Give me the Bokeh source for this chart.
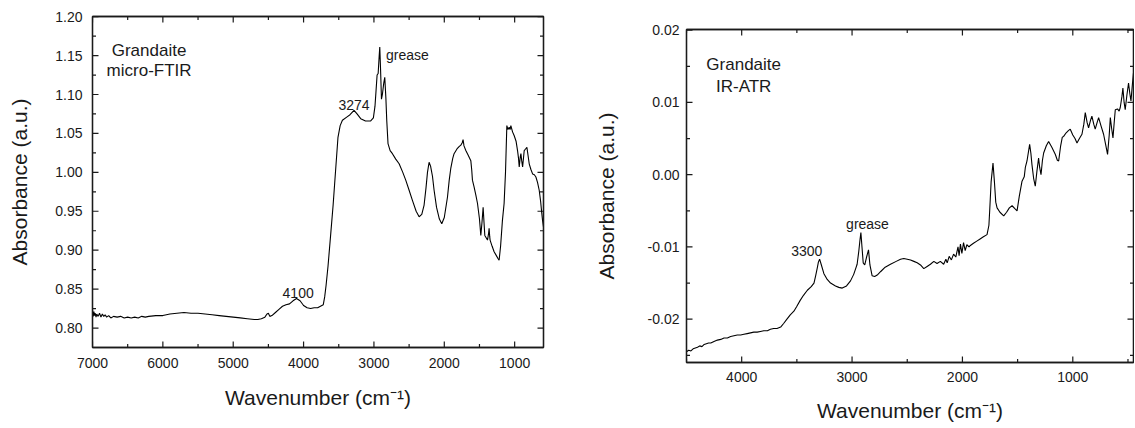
import math
from bokeh.plotting import figure
from bokeh.layouts import row
from bokeh.models import (Range1d, LinearAxis, SingleIntervalTicker, NumeralTickFormatter,
                          CustomJSTickFormatter, Label)
from bokeh.embed import file_html
from bokeh.resources import INLINE

# ---------------- data ----------------
# Left panel: micro-FTIR (wavenumber cm-1, absorbance)
ftir_wn = [7000, 6990, 6980, 6970, 6960, 6950, 6940, 6920, 6900, 6880, 6860, 6840, 6820, 6800,
           6770, 6740, 6700, 6650, 6600, 6550, 6500, 6450, 6400, 6350, 6300, 6250, 6200, 6100,
           6000, 5900, 5800, 5700, 5600, 5500, 5400, 5300, 5200, 5100, 5000, 4900, 4800, 4700,
           4650, 4600, 4550, 4520, 4500, 4480, 4450, 4400, 4350, 4300, 4250, 4200, 4150, 4100,
           4050, 4000, 3950, 3900, 3850, 3800, 3760, 3720, 3700, 3680, 3653, 3614, 3580, 3543,
           3511, 3480, 3448, 3387, 3340, 3283, 3240, 3188, 3120, 3046, 3008, 2985, 2970, 2955,
           2940, 2925, 2917, 2905, 2893, 2880, 2860, 2846, 2830, 2818, 2800, 2770, 2737, 2690,
           2642, 2590, 2548, 2500, 2453, 2400, 2358, 2320, 2287, 2260, 2239, 2216, 2195, 2168,
           2145, 2110, 2070, 2036, 2000, 1955, 1930, 1908, 1880, 1861, 1820, 1790, 1765, 1745,
           1733, 1720, 1694, 1660, 1623, 1610, 1600, 1576, 1550, 1528, 1500, 1481, 1465, 1448,
           1435, 1424, 1405, 1386, 1370, 1363, 1355, 1349, 1320, 1292, 1260, 1235, 1221, 1200,
           1174, 1150, 1130, 1111, 1095, 1078, 1065, 1054, 1030, 1006, 980, 959, 945, 935, 920,
           911, 900, 887, 875, 864, 845, 826, 810, 793, 770, 745, 720, 698, 675, 651, 630, 615,
           603, 590]
ftir_abs = [0.823, 0.815, 0.821, 0.816, 0.819, 0.814, 0.818, 0.815, 0.819, 0.814, 0.818, 0.815,
            0.817, 0.814, 0.816, 0.813, 0.815, 0.814, 0.815, 0.813, 0.814, 0.813, 0.814, 0.813,
            0.815, 0.814, 0.815, 0.816, 0.816, 0.818, 0.819, 0.820, 0.819, 0.819, 0.818, 0.817,
            0.816, 0.815, 0.814, 0.813, 0.812, 0.811, 0.811, 0.812, 0.814, 0.818, 0.819, 0.815,
            0.816, 0.820, 0.824, 0.828, 0.830, 0.831, 0.835, 0.838, 0.835, 0.829, 0.826, 0.825,
            0.826, 0.826, 0.828, 0.830, 0.840, 0.855, 0.879, 0.921, 0.958, 1.005, 1.045, 1.060,
            1.067, 1.071, 1.074, 1.0795, 1.075, 1.069, 1.066, 1.066, 1.070, 1.085, 1.105, 1.125,
            1.127, 1.150, 1.161, 1.130, 1.094, 1.100, 1.115, 1.122, 1.095, 1.067, 1.037, 1.028,
            1.024, 1.017, 1.011, 1.000, 0.990, 0.977, 0.964, 0.950, 0.943, 0.946, 0.958, 0.980,
            1.000, 1.013, 1.008, 0.995, 0.977, 0.955, 0.940, 0.934, 0.942, 0.968, 0.990, 1.005,
            1.018, 1.024, 1.030, 1.033, 1.035, 1.038, 1.042, 1.034, 1.028, 1.022, 1.015, 1.003,
            0.990, 0.981, 0.970, 0.960, 0.940, 0.919, 0.935, 0.955, 0.935, 0.919, 0.916, 0.913,
            0.922, 0.928, 0.918, 0.913, 0.905, 0.898, 0.893, 0.889, 0.887, 0.905, 0.938, 0.960,
            1.000, 1.060, 1.055, 1.058, 1.055, 1.060, 1.052, 1.047, 1.040, 1.028, 1.018, 1.007,
            1.020, 1.024, 1.015, 1.007, 1.018, 1.028, 1.030, 1.032, 1.022, 1.011, 1.004, 0.998,
            0.997, 0.994, 0.987, 0.977, 0.962, 0.948, 0.938, 0.930]

# Right panel: IR-ATR
atr_wn = [4500, 4480, 4460, 4440, 4420, 4400, 4380, 4360, 4340, 4320, 4300, 4280, 4251, 4220,
          4190, 4160, 4130, 4100, 4070, 4040, 4009, 3980, 3950, 3920, 3890, 3860, 3830, 3800,
          3767, 3740, 3710, 3680, 3647, 3620, 3590, 3560, 3527, 3500, 3470, 3440, 3405, 3370,
          3345, 3330, 3315, 3305, 3294, 3280, 3255, 3225, 3195, 3150, 3120, 3089, 3050, 3014,
          2985, 2965, 2954, 2939, 2928, 2920, 2910, 2899, 2885, 2870, 2851, 2838, 2818, 2795,
          2772, 2740, 2700, 2652, 2600, 2561, 2531, 2500, 2470, 2440, 2410, 2380, 2350, 2320,
          2290, 2259, 2230, 2200, 2170, 2150, 2138, 2120, 2100, 2080, 2060, 2040, 2030, 2018,
          2005, 1990, 1975, 1960, 1940, 1928, 1900, 1870, 1840, 1810, 1777, 1760, 1753, 1740,
          1723, 1710, 1698, 1686, 1660, 1626, 1600, 1575, 1550, 1525, 1505, 1485, 1460, 1440,
          1430, 1415, 1391, 1380, 1370, 1355, 1340, 1325, 1310, 1300, 1288, 1275, 1264, 1240,
          1219, 1190, 1158, 1140, 1128, 1110, 1095, 1083, 1060, 1040, 1023, 1000, 980, 962,
          940, 917, 900, 887, 870, 857, 840, 827, 810, 797, 780, 766, 745, 721, 700, 685,
          670, 660, 648, 636, 625, 615, 595, 580, 570, 555, 546, 535, 525, 510, 495, 483,
          473, 460, 450]
atr_abs = [-0.0245, -0.0243, -0.0244, -0.0241, -0.0240, -0.0239, -0.0237, -0.0238, -0.0235,
           -0.0234, -0.0233, -0.0233, -0.0231, -0.0229, -0.0228, -0.0226, -0.0226, -0.0224,
           -0.0223, -0.0222, -0.0222, -0.0221, -0.0220, -0.0219, -0.0218, -0.0218, -0.0217,
           -0.0216, -0.0216, -0.0214, -0.0213, -0.0213, -0.0211, -0.0206, -0.0200, -0.0194,
           -0.0189, -0.0182, -0.0174, -0.0167, -0.0160, -0.0155, -0.0150, -0.0140, -0.0129,
           -0.0121, -0.0117, -0.0124, -0.0137, -0.0145, -0.0150, -0.0154, -0.0156, -0.0157,
           -0.0154, -0.0147, -0.0138, -0.0129, -0.0124, -0.0106, -0.0090, -0.0080, -0.0100,
           -0.0122, -0.0125, -0.0115, -0.0104, -0.0125, -0.0140, -0.0141, -0.0139, -0.0134,
           -0.0128, -0.0124, -0.0120, -0.0117, -0.0116, -0.0117, -0.0118, -0.0120, -0.0122,
           -0.0125, -0.0130, -0.0127, -0.0124, -0.0120, -0.0123, -0.0120, -0.0124, -0.0117,
           -0.0122, -0.0113, -0.0118, -0.0110, -0.0114, -0.0100, -0.0112, -0.0096, -0.0109,
           -0.0094, -0.0105, -0.0097, -0.0100, -0.0098, -0.0095, -0.0092, -0.0089, -0.0086,
           -0.0083, -0.0070, -0.0050, -0.0010, 0.0016, -0.0010, -0.0038, -0.0046, -0.0052,
           -0.0057, -0.0052, -0.0046, -0.0043, -0.0047, -0.0050, -0.0030, -0.0009, -0.0003,
           0.0010, 0.0019, 0.0042, 0.0030, 0.0014, -0.0005, -0.0016, 0.0005, 0.0023, 0.0010,
           0.0000, 0.0020, 0.0030, 0.0040, 0.0046, 0.0038, 0.0028, 0.0020, 0.0019, 0.0040,
           0.0052, 0.0053, 0.0058, 0.0061, 0.0063, 0.0055, 0.0050, 0.0044, 0.0050, 0.0056,
           0.0070, 0.0086, 0.0072, 0.0065, 0.0075, 0.0081, 0.0070, 0.0063, 0.0072, 0.0079,
           0.0068, 0.0056, 0.0040, 0.0028, 0.0055, 0.0079, 0.0064, 0.0051, 0.0072, 0.0090,
           0.0091, 0.0088, 0.0093, 0.0108, 0.0120, 0.0100, 0.0090, 0.0110, 0.0127, 0.0112,
           0.0102, 0.0125, 0.0141]

# tick positions (major / minor) for each panel
ftir_x_major = [7000, 6000, 5000, 4000, 3000, 2000, 1000]
ftir_x_minor = [6500, 5500, 4500, 3500, 2500, 1500]
ftir_y_major = [0.80, 0.85, 0.90, 0.95, 1.00, 1.05, 1.10, 1.15, 1.20]
ftir_y_minor = [0.775, 0.825, 0.875, 0.925, 0.975, 1.025, 1.075, 1.125, 1.175]
atr_x_major = [4000, 3000, 2000, 1000]
atr_x_minor = [4500, 3500, 2500, 1500, 500]
atr_y_major = [-0.02, -0.01, 0.00, 0.01, 0.02]
atr_y_minor = [-0.025, -0.015, -0.005, 0.005, 0.015]

# annotations (text, x, y)
left_notes = [("Grandaite", 6196, 1.1564, "center", 17), ("micro-FTIR", 6196, 1.1308, "center", 17),
              ("3274", 3283, 1.0859, "center", 14), ("grease", 2828, 1.1513, "left", 14),
              ("4100", 4077, 0.8445, "center", 14)]
right_notes = [("Grandaite", 3982, 0.01526, "center", 17), ("IR-ATR", 3982, 0.01225, "center", 17),
               ("3300", 3410, -0.01057, "center", 14), ("grease", 2860, -0.00679, "center", 14)]

FONT = "Liberation Sans"
INK = "#1a1a1a"
FIG_H = 424


def style_axis(ax, show_labels=True):
    ax.axis_line_color = INK
    ax.axis_line_width = 1.3
    ax.major_tick_in = 0
    ax.major_tick_out = 0
    ax.minor_tick_in = 0
    ax.minor_tick_out = 0
    ax.major_label_text_font = FONT
    ax.major_label_text_font_size = "14px"
    ax.major_label_text_color = INK
    ax.axis_label_text_font = FONT
    ax.axis_label_text_font_size = "21px"
    ax.axis_label_text_font_style = "normal"
    ax.axis_label_text_color = INK
    if not show_labels:
        ax.formatter = CustomJSTickFormatter(code="return ''")
        ax.major_label_standoff = 0
        ax.major_label_text_font_size = "0px"
        ax.axis_label_standoff = 0


def make_panel(wn, ab, xr, yr, xint, yint, ticks, width, borders, notes, std):
    p = figure(width=width, height=FIG_H, x_range=Range1d(*xr), y_range=Range1d(*yr),
               output_backend="svg", toolbar_location=None, tools="", frame_align=False,
               min_border_left=borders[0], min_border_right=borders[1],
               min_border_top=borders[2], min_border_bottom=borders[3])
    p.xaxis.visible = False
    p.yaxis.visible = False
    p.grid.visible = False
    p.background_fill_color = "white"
    p.border_fill_color = "white"
    p.outline_line_color = INK
    p.outline_line_width = 1.3

    xt = SingleIntervalTicker(interval=xint, num_minor_ticks=2)
    yt = SingleIntervalTicker(interval=yint, num_minor_ticks=2)

    xb = LinearAxis(ticker=xt, formatter=NumeralTickFormatter(format="0"),
                    axis_label="Wavenumber (cm\u207b\u00b9)")
    style_axis(xb)
    xb.major_label_standoff = std[0]
    xb.axis_label_standoff = std[1]
    p.add_layout(xb, "below")

    yl = LinearAxis(ticker=yt, formatter=NumeralTickFormatter(format="0.00"),
                    axis_label="Absorbance (a.u.)")
    style_axis(yl)
    yl.major_label_standoff = std[2]
    yl.axis_label_standoff = std[3]
    p.add_layout(yl, "left")

    xa = LinearAxis(ticker=xt)
    style_axis(xa, show_labels=False)
    p.add_layout(xa, "above")
    yr_ax = LinearAxis(ticker=yt)
    style_axis(yr_ax, show_labels=False)
    p.add_layout(yr_ax, "right")

    # inward ticks on all four sides
    x0, x1 = xr
    y0, y1 = yr
    xmaj, xmin, ymaj, ymin = ticks
    for pos, ln in ((xmaj, 6), (xmin, 3.5)):
        p.ray(x=pos, y=[y0] * len(pos), length=ln, length_units="screen",
              angle=math.pi / 2, line_color=INK, line_width=1.2)
        p.ray(x=pos, y=[y1] * len(pos), length=ln, length_units="screen",
              angle=-math.pi / 2, line_color=INK, line_width=1.2)
    for pos, ln in ((ymaj, 6), (ymin, 3.5)):
        p.ray(x=[x0] * len(pos), y=pos, length=ln, length_units="screen",
              angle=0, line_color=INK, line_width=1.2)
        p.ray(x=[x1] * len(pos), y=pos, length=ln, length_units="screen",
              angle=math.pi, line_color=INK, line_width=1.2)

    p.line(wn, ab, line_color="black", line_width=1.1)

    for txt, x, y, align, size in notes:
        p.add_layout(Label(x=x, y=y, text=txt, text_align=align, text_baseline="alphabetic",
                           text_font=FONT, text_font_size=f"{size}px", text_color=INK))
    return p


p1 = make_panel(ftir_wn, ftir_abs, (7000, 590), (0.775, 1.2002), 1000, 0.05,
                (ftir_x_major, ftir_x_minor, ftir_y_major, ftir_y_minor),
                575, (92, 32, 16, FIG_H - 347), left_notes, (10, 15, 10, 21))
p2 = make_panel(atr_wn, atr_abs, (4500, 450), (-0.026, 0.0201), 1000, 0.01,
                (atr_x_major, atr_x_minor, atr_y_major, atr_y_minor),
                559, (111, 1, 29, FIG_H - 362), right_notes, (9, 14, 7, 27))

layout = row(p1, p2)
open("out.html", "w").write(file_html(layout, INLINE))
